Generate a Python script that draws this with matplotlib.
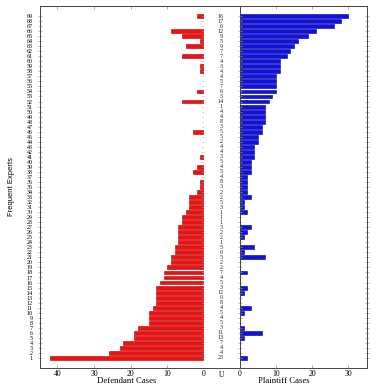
import matplotlib
matplotlib.use("Agg")
import matplotlib.pyplot as plt
import numpy as np

# Rows listed from top (expert 69) to bottom (expert 1)
experts = list(range(69, 0, -1))
defendant = [2, 0, 0, 9, 6, 1, 5, 0, 6, 0,          # 69-60
             1, 1, 0, 0, 0, 2, 0, 6, 0, 0,          # 59-50
             0, 0, 0, 3, 0, 0, 0, 0, 1, 0,          # 49-40
             2, 3, 0, 1, 1, 2, 4, 4, 4, 5,          # 39-30
             6, 6, 7, 7, 7, 7, 8, 8, 9, 9,          # 29-20
             10, 11, 11, 12, 13, 13, 13, 13, 14, 15,  # 19-10
             15, 15, 18, 19, 19, 22, 23, 26, 42]    # 9-1
plaintiff = [30, 28, 26, 21, 19, 16, 15, 14, 13, 11,  # 69-60
             11, 11, 10, 10, 10, 10, 9, 8, 7, 7,     # 59-50
             7, 7, 6, 6, 5, 5, 4, 4, 4, 3,           # 49-40
             3, 3, 2, 2, 2, 2, 3, 1, 1, 2,           # 39-30
             0, 0, 3, 2, 1, 0, 4, 1, 7, 0,           # 29-20
             0, 2, 0, 0, 2, 1, 0, 0, 3, 1,           # 19-10
             0, 0, 1, 6, 1, 0, 0, 0, 2]              # 9-1
counts = [16, 17, 6, 12, 9, 5, 9, 7, 7, 4,
          3, 4, 4, 5, 7, 6, 5, 14, 1, 4,
          4, 8, 3, 5, 5, 2, 4, 4, 3, 5,
          4, 5, 4, 8, 3, 2, 2, 5, 3, 1,
          1, 1, 3, 2, 2, 1, 5, 0, 5, 2,
          2, 7, 4, 5, 3, 12, 0, 8, 4, 5,
          4, 5, 3, 11, 13, 7, 4, 4, 23]

left_ticks = [40, 30, 20, 10, 0]
right_ticks = [0, 10, 20, 30]

serif = ["Liberation Serif", "DejaVu Serif"]
W = H = 386
fig = plt.figure(figsize=(W / 100, H / 100), dpi=100)

def fx(px):
    return px / W

def fy(py):
    return 1 - py / H

top, bot = 6, 368
axL = fig.add_axes([fx(40), fy(bot), fx(204 - 40), (bot - top) / H])
axM = fig.add_axes([fx(204), fy(bot), fx(240 - 204), (bot - top) / H])
axR = fig.add_axes([fx(240), fy(bot), fx(367 - 240), (bot - top) / H])

y = np.array(experts)
axL.barh(y, defendant, height=0.78, color="#ee1111", edgecolor="#b00000", linewidth=0.4)
axR.barh(y, plaintiff, height=0.78, color="#1010e0", edgecolor="#000090", linewidth=0.4)

for ax in (axL, axM, axR):
    ax.set_ylim(-1, 71)
    for s in ax.spines.values():
        s.set_color("#444444")
        s.set_linewidth(0.7)

axL.set_xlim(44.7, 0)
axL.set_xticks(left_ticks)
axL.set_xticklabels([str(t) for t in left_ticks], family=serif, fontsize=5.5)
axL.set_yticks(y)
axL.set_yticklabels([str(e) for e in experts], family=serif, fontsize=4.3)
axL.tick_params(axis="y", left=True, right=True, direction="inout", length=2.5,
                color="#aaaaaa", width=0.5, pad=4)
axL.tick_params(axis="x", top=True, bottom=True, direction="in", length=2.5,
                color="#888888", width=0.5, pad=1.5)
axL.set_xlabel("Defendant Cases", family=serif, fontsize=6.3)
axL.xaxis.set_label_coords(0.53, -0.025)
axL.set_ylabel("Frequent Experts", family=["Liberation Sans Narrow", "Liberation Sans"],
               fontsize=5.5)
axL.yaxis.set_label_coords(-0.152, 0.5)

axM.set_xlim(0, 1)
axM.set_xticks([0.5])
axM.set_xticklabels(["U"], family=serif, fontsize=5.5)
axM.tick_params(axis="x", length=0, pad=2.5)
axM.set_yticks([])
axM.spines["left"].set_visible(False)
axM.spines["right"].set_visible(False)
for yy, c in zip(y, counts):
    axM.text(0.47, yy, str(c), ha="center", va="center", family=serif,
             fontsize=4.3, color="#222222")

axR.set_xlim(0, 35.3)
axR.set_xticks(right_ticks)
axR.set_xticklabels([str(t) for t in right_ticks], family=serif, fontsize=5.5)
axR.set_yticks(y)
axR.set_yticklabels([])
axR.tick_params(axis="y", left=True, right=True, direction="inout", length=2.5,
                color="#aaaaaa", width=0.5)
axR.tick_params(axis="x", top=True, bottom=True, direction="in", length=2.5,
                color="#888888", width=0.5, pad=1.5)
axR.set_xlabel("Plaintiff Cases", family=serif, fontsize=6.3)
axR.xaxis.set_label_coords(0.346, -0.025)

fig.savefig("out.png", dpi=100)
